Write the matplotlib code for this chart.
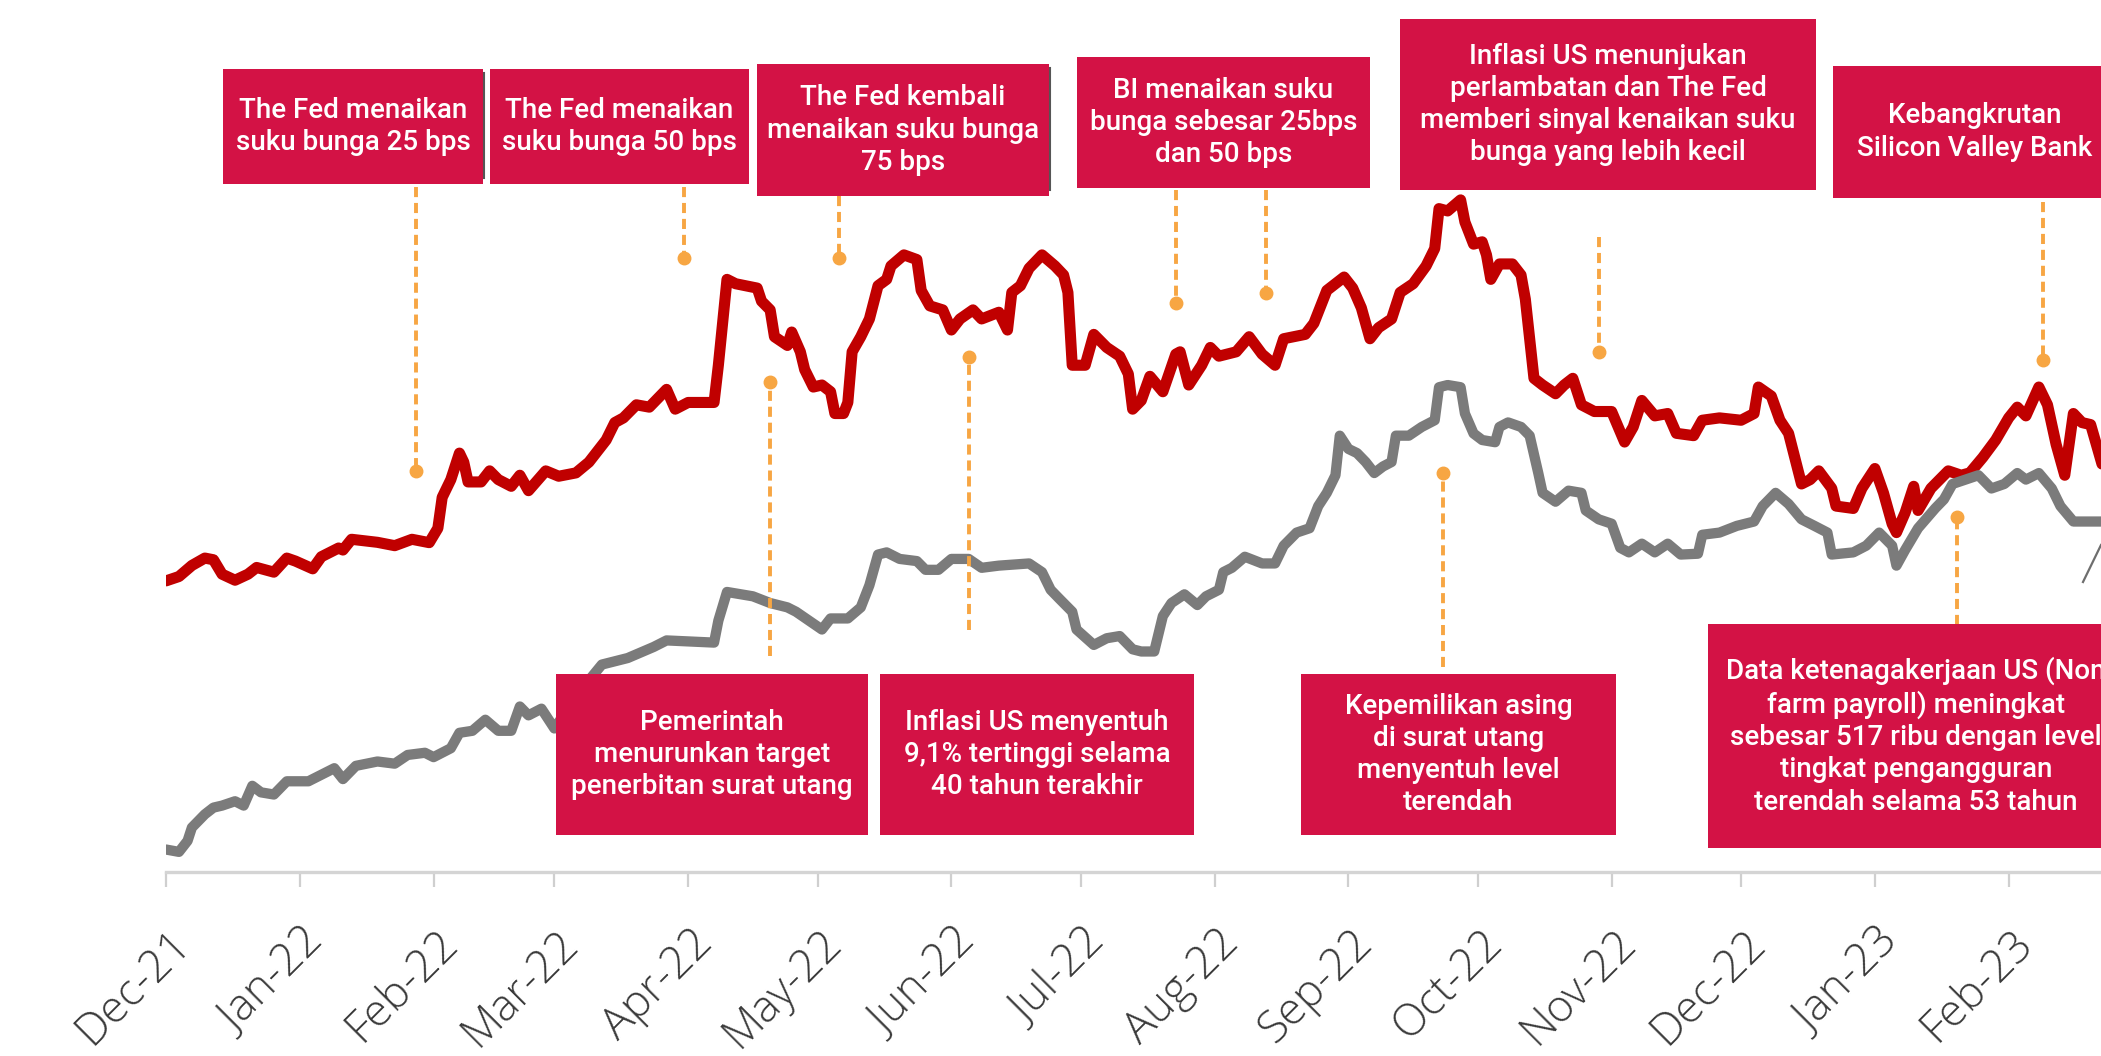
import matplotlib
matplotlib.use("Agg")
import matplotlib.pyplot as plt
import matplotlib.dates as mdates
import matplotlib.transforms as mtransforms
from matplotlib.patches import Rectangle
from matplotlib.lines import Line2D
import pandas as pd

# ---------------- data ----------------
start_date = "2021-12-01"

# Red line (Indonesian govt. bond yield, %), days since start
red_day = [0, 3, 6, 9, 11, 13, 16, 19, 21, 25, 28, 30, 34, 36, 40, 41, 43, 49, 53, 57,
           61, 63, 64, 66, 68, 69, 70, 73, 75, 77, 80, 82, 84, 88, 91, 95, 98, 102, 104, 106,
           109, 112, 116, 118, 121, 127, 128, 130, 132, 137, 138, 140, 141, 144, 145, 147, 148, 150, 152, 154,
           155, 157, 158, 159, 161, 163, 165, 167, 168, 171, 174, 175, 177, 180, 182, 184, 187, 189, 193, 195,
           196, 198, 200, 203, 206, 208, 209, 210, 213, 215, 218, 221, 223, 224, 226, 228, 231, 234, 235, 237,
           240, 242, 244, 248, 251, 254, 257, 259, 264, 266, 269, 273, 275, 277, 279, 281, 284, 286, 289, 292,
           294, 295, 297, 300, 301, 303, 305, 306, 307, 309, 312, 314, 315, 316, 317, 319, 322, 324, 326, 328,
           331, 335, 338, 340, 342, 345, 348, 350, 354, 356, 360, 365, 368, 369, 372, 374, 376, 379, 381, 383,
           386, 387, 391, 393, 396, 398, 400, 401, 403, 405, 406, 409, 413, 416, 418, 421, 424, 427, 429, 431,
           434, 436, 438, 440, 441, 442, 444, 446, 449]
red_yield = [6.468, 6.481, 6.514, 6.536, 6.531, 6.488, 6.470, 6.488, 6.508, 6.494, 6.536, 6.527, 6.504, 6.540, 6.566, 6.560, 6.592, 6.583, 6.573, 6.592,
             6.582, 6.625, 6.717, 6.770, 6.849, 6.822, 6.763, 6.763, 6.796, 6.770, 6.750, 6.783, 6.737, 6.796, 6.780, 6.790, 6.822, 6.888, 6.940, 6.954,
             6.993, 6.986, 7.039, 6.980, 7.000, 7.000, 7.111, 7.367, 7.354, 7.341, 7.302, 7.276, 7.196, 7.170, 7.210, 7.151, 7.098, 7.046, 7.052, 7.032,
             6.967, 6.967, 7.000, 7.151, 7.196, 7.249, 7.348, 7.367, 7.407, 7.440, 7.426, 7.334, 7.288, 7.276, 7.216, 7.249, 7.276, 7.249, 7.269, 7.216,
             7.328, 7.348, 7.400, 7.440, 7.407, 7.380, 7.328, 7.111, 7.111, 7.203, 7.164, 7.138, 7.085, 6.980, 7.006, 7.078, 7.032, 7.144, 7.151, 7.052,
             7.111, 7.164, 7.138, 7.151, 7.196, 7.144, 7.111, 7.190, 7.203, 7.236, 7.334, 7.374, 7.341, 7.282, 7.190, 7.223, 7.249, 7.328, 7.354, 7.407,
             7.459, 7.578, 7.571, 7.604, 7.538, 7.472, 7.479, 7.440, 7.367, 7.413, 7.413, 7.380, 7.308, 7.190, 7.072, 7.052, 7.026, 7.052, 7.072, 6.993,
             6.973, 6.973, 6.882, 6.927, 7.006, 6.960, 6.967, 6.908, 6.901, 6.947, 6.954, 6.947, 6.967, 7.046, 7.019, 6.947, 6.908, 6.757, 6.770, 6.796,
             6.744, 6.691, 6.684, 6.744, 6.803, 6.730, 6.638, 6.612, 6.671, 6.750, 6.678, 6.744, 6.796, 6.783, 6.790, 6.836, 6.888, 6.954, 6.986, 6.960,
             7.046, 6.993, 6.875, 6.783, 6.875, 6.967, 6.940, 6.934, 6.800]

# Grey line (US Treasury yield, %), days since start
gray_day = [0, 3, 5, 6, 9, 11, 13, 16, 18, 20, 22, 25, 28, 33, 36, 39, 41, 44, 49, 53,
            56, 60, 62, 66, 68, 71, 74, 77, 80, 82, 84, 87, 90, 96, 101, 107, 113, 116, 127, 128,
            130, 133, 136, 140, 144, 146, 149, 152, 154, 158, 161, 163, 165, 167, 170, 174, 176, 179, 182, 186,
            189, 193, 200, 203, 205, 207, 210, 211, 215, 218, 221, 224, 226, 229, 231, 233, 236, 239, 241, 244,
            245, 247, 250, 254, 257, 259, 262, 265, 267, 269, 271, 272, 274, 276, 278, 280, 282, 284, 285, 288,
            291, 294, 295, 297, 300, 301, 303, 305, 308, 309, 311, 314, 316, 318, 319, 322, 325, 328, 329, 332,
            335, 337, 339, 342, 345, 348, 351, 355, 356, 360, 364, 368, 370, 373, 376, 379, 382, 385, 386, 391,
            394, 397, 400, 401, 403, 406, 410, 412, 414, 417, 420, 423, 426, 429, 431, 434, 437, 439, 442, 449]
gray_yield = [1.434, 1.420, 1.486, 1.565, 1.644, 1.684, 1.696, 1.722, 1.696, 1.814, 1.775, 1.762, 1.841, 1.841, 1.880, 1.919, 1.854, 1.933, 1.959, 1.946,
              1.998, 2.011, 1.985, 2.038, 2.130, 2.142, 2.208, 2.142, 2.142, 2.287, 2.234, 2.274, 2.156, 2.380, 2.537, 2.576, 2.642, 2.681, 2.668, 2.799,
              2.970, 2.957, 2.944, 2.904, 2.878, 2.852, 2.799, 2.746, 2.812, 2.812, 2.878, 3.010, 3.193, 3.206, 3.167, 3.154, 3.102, 3.102, 3.167, 3.167,
              3.114, 3.127, 3.140, 3.088, 2.983, 2.930, 2.852, 2.746, 2.654, 2.694, 2.707, 2.628, 2.615, 2.615, 2.826, 2.904, 2.956, 2.892, 2.944, 2.983,
              3.088, 3.114, 3.180, 3.140, 3.140, 3.246, 3.324, 3.350, 3.482, 3.561, 3.666, 3.902, 3.823, 3.798, 3.745, 3.679, 3.718, 3.745, 3.902, 3.902,
              3.954, 3.994, 4.191, 4.204, 4.191, 4.034, 3.915, 3.876, 3.863, 3.954, 3.981, 3.954, 3.902, 3.679, 3.561, 3.508, 3.574, 3.561, 3.456, 3.403,
              3.377, 3.233, 3.206, 3.258, 3.206, 3.258, 3.193, 3.198, 3.311, 3.324, 3.364, 3.390, 3.482, 3.561, 3.495, 3.403, 3.364, 3.324, 3.193, 3.206,
              3.246, 3.324, 3.246, 3.127, 3.220, 3.350, 3.469, 3.522, 3.614, 3.640, 3.666, 3.587, 3.614, 3.679, 3.640, 3.679, 3.587, 3.482, 3.390, 3.390]

tick_labels = ["Dec-21", "Jan-22", "Feb-22", "Mar-22", "Apr-22", "May-22", "Jun-22", "Jul-22",
               "Aug-22", "Sep-22", "Oct-22", "Nov-22", "Dec-22", "Jan-23", "Feb-23"]

event_labels = [
    "The Fed menaikan\nsuku bunga 25 bps",
    "The Fed menaikan\nsuku bunga 50 bps",
    "The Fed kembali\nmenaikan suku bunga\n75 bps",
    "BI menaikan suku\nbunga sebesar 25bps\ndan 50 bps",
    "Inflasi US menunjukan\nperlambatan dan The Fed\nmemberi sinyal kenaikan suku\nbunga yang lebih kecil",
    "Kebangkrutan\nSilicon Valley Bank",
    "Pemerintah\nmenurunkan target\npenerbitan surat utang",
    "Inflasi US menyentuh\n9,1% tertinggi selama\n40 tahun terakhir",
    "Kepemilikan asing\ndi surat utang\nmenyentuh level\nterendah",
    "Data ketenagakerjaan US (Non\nfarm payroll) meningkat\nsebesar 517 ribu dengan level\ntingkat pengangguran\nterendah selama 53 tahun",
]
event_days = [[58], [120], [156], [234, 255], [332], [435], [140], [186], [296], [415]]

# ---------------- layout / style ----------------
W, H = 2101, 1056
RED = "#C00000"
GREY = "#7B7B7B"
BOX = "#D31245"
ORANGE = "#F7A643"

# boxes in pixel coords (x0, y0, x1, y1), y from top
BOX_PX = [(223, 69, 483, 184), (490, 69, 749, 184), (757, 64, 1049, 196),
          (1077, 57, 1370, 188), (1400, 19, 1816, 190), (1833, 66, 2117, 198),
          (556, 674, 868, 835), (880, 674, 1194, 835), (1301, 674, 1616, 835),
          (1708, 624, 2124, 848)]
# stems: (end of dashed line, dot position) in axes fraction for each event day
STEMS = [[(0.785, 0.460)], [(0.785, 0.704)], [(0.775, 0.704)],
         [(0.782, 0.653), (0.782, 0.664)], [(0.728, 0.596)], [(0.768, 0.587)],
         [(0.248, 0.562)], [(0.278, 0.591)], [(0.235, 0.458)], [(0.283, 0.407)]]

start = pd.Timestamp(start_date)
to_num = lambda days: mdates.date2num(start + pd.to_timedelta(pd.Series(days, dtype=float), unit="D"))

fig = plt.figure(figsize=(W / 100, H / 100), dpi=100)
fig.patch.set_facecolor("white")
ax = fig.add_axes([166 / W, 184 / H, 1 - 166 / W, 872 / H])
ax2 = ax.twinx()

ax.plot(to_num(red_day), red_yield, color=RED, lw=8,
        solid_joinstyle="round", solid_capstyle="round", zorder=3)
ax2.plot(to_num(gray_day), gray_yield, color=GREY, lw=7.4,
         solid_joinstyle="round", solid_capstyle="round", zorder=3)

ax.set_ylim(5.6, 8.2)
ax2.set_ylim(1.3, 6.5)
x0 = mdates.date2num(start)
ax.set_xlim(x0, x0 + 448.4)

ticks = mdates.date2num(pd.date_range(start_date, periods=len(tick_labels), freq="MS"))
ax.set_xticks(ticks)
ax.set_xticklabels(tick_labels, fontfamily="Open Sans", fontweight="light")
ax.tick_params(axis="x", length=11, width=1.6, color="#CFCFCF", pad=36,
               labelsize=32, labelcolor="#3A3A3A", direction="out")
off = mtransforms.ScaledTranslation(18 / 100, 0, fig.dpi_scale_trans)
for lbl in ax.get_xticklabels():
    lbl.set_rotation(45)
    lbl.set_ha("right")
    lbl.set_va("center")
    lbl.set_rotation_mode("anchor")
    lbl.set_transform(lbl.get_transform() + off)

ax.set_yticks([])
for s in ["left", "right", "top"]:
    ax.spines[s].set_visible(False)
ax.spines["bottom"].set_color("#D4D4D4")
ax.spines["bottom"].set_linewidth(2.4)
ax2.set_axis_off()

# event stems
trans = ax2.get_xaxis_transform()
for days, stems in zip(event_days, STEMS):
    for d, (yend, ydot) in zip(days, stems):
        xd = x0 + d
        ax2.plot([xd, xd], [yend, ydot], transform=trans, color=ORANGE, lw=2.8,
                 dashes=(2.6, 1.5), zorder=4, clip_on=False)
        ax2.plot([xd], [ydot], marker="o", ms=9, color=ORANGE, transform=trans,
                 zorder=4, clip_on=False)

# event boxes
for i, (text, (bx0, by0, bx1, by1)) in enumerate(zip(event_labels, BOX_PX)):
    fig.add_artist(Rectangle((bx0 / W, 1 - by1 / H), (bx1 - bx0) / W, (by1 - by0) / H,
                             transform=fig.transFigure, facecolor=BOX, edgecolor="none", zorder=5))
    fig.text((bx0 + bx1) / 2 / W, 1 - (by0 + by1) / 2 / H, text, ha="center", va="center",
             color="white", fontsize=20, fontfamily="Roboto", fontweight="medium",
             linespacing=1.25, zorder=6)
    if i in (0, 2):
        # thin shadow edge on the right side of the box
        fig.add_artist(Line2D([(bx1 + 1) / W] * 2, [1 - (by0 + 4) / H, 1 - (by1 - 6) / H],
                              transform=fig.transFigure, color="#555555", lw=1.5, zorder=5))

# thin pointer line at right edge
fig.add_artist(Line2D([2083 / W, 2101 / W], [1 - 582 / H, 1 - 545 / H],
                      transform=fig.transFigure, color="#6E6E6E", lw=1.6, zorder=4))

fig.savefig("out.png", dpi=100, facecolor="white")
